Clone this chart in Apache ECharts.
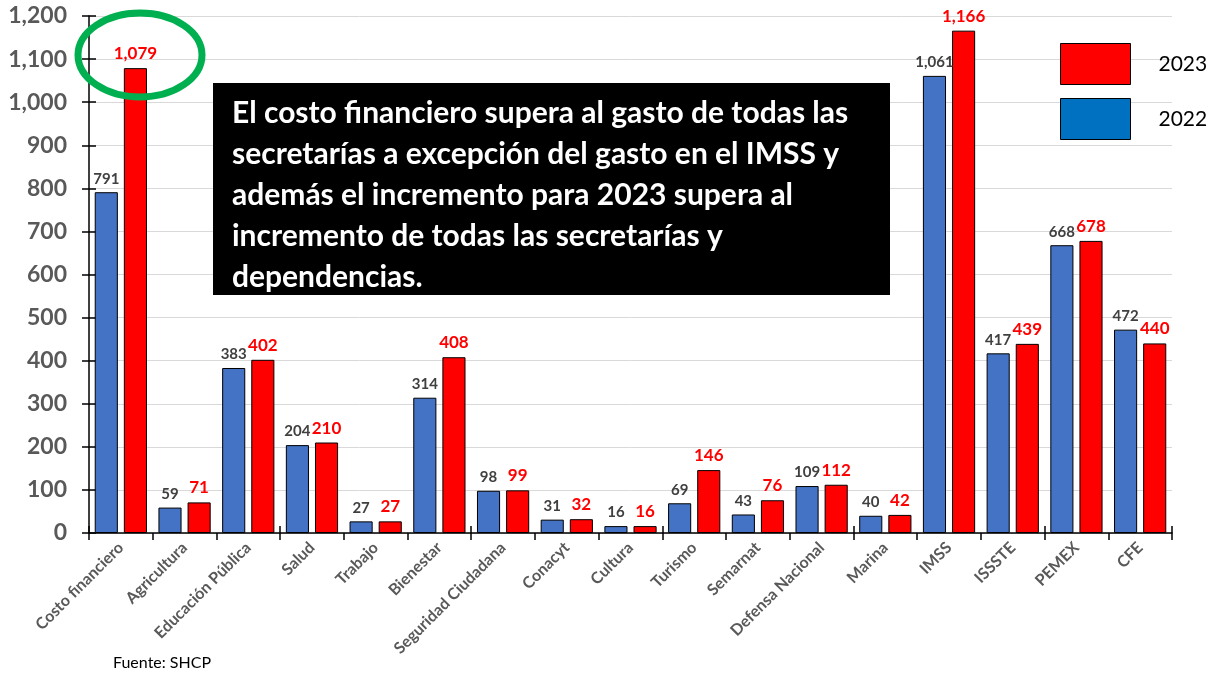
<!DOCTYPE html>
<html><head><meta charset="utf-8">
<script src="https://cdn.jsdelivr.net/npm/echarts@6/dist/echarts.min.js"></script>
<style>html,body{margin:0;padding:0;background:#fff}#c{width:1217px;height:677px}</style>
</head><body><div id="c"></div>
<script>
const categories = ['Costo financiero','Agricultura','Educación Pública','Salud','Trabajo','Bienestar','Seguridad Ciudadana','Conacyt','Cultura','Turismo','Semarnat','Defensa Nacional','Marina','IMSS','ISSSTE','PEMEX','CFE'];
const values2022 = [791,59,383,204,27,314,98,31,16,69,43,109,40,1061,417,668,472];
const values2023 = [1079,71,402,210,27,408,99,32,16,146,76,112,42,1166,439,678,440];
const yTicks = [0,100,200,300,400,500,600,700,800,900,1000,1100,1200];
const noteText = 'El costo financiero supera al gasto de todas las\nsecretarías a excepción del gasto en el IMSS y\nademás el incremento para 2023 supera al\nincremento de todas las secretarías y\ndependencias.';
const sourceText = 'Fuente: SHCP';

const FONT = 'Lato, "Liberation Sans", sans-serif';
const fmt = v => Number(v).toLocaleString('en-US');
const chart = echarts.init(document.getElementById('c'));
const grid = {left: 89, right: 45, top: 16, bottom: 144};
chart.setOption({
  animation: false,
  textStyle: {fontFamily: FONT},
  grid: grid,
  legend: {
    orient: 'vertical', left: 1060, top: 43, padding: 0, itemWidth: 70, itemHeight: 41, itemGap: 13,
    icon: 'rect',
    selectedMode: false,
    data: [
      {name: '2023', itemStyle: {color: '#FF0000', borderColor: '#000', borderWidth: 1}},
      {name: '2022', itemStyle: {color: '#0070C0', borderColor: '#000', borderWidth: 1}}
    ],
    textStyle: {fontSize: 21, color: '#000', fontFamily: FONT, padding: [6,0,0,23]}
  },
  xAxis: [{
    type: 'category', data: categories,
    axisLine: {lineStyle: {color: '#000', width: 1.5}},
    axisTick: {show: true, length: 7, lineStyle: {color: '#000', width: 1.5}},
    axisLabel: {rotate: 45, fontSize: 16, fontWeight: 'bold', color: '#595959', margin: 12, fontFamily: FONT, interval: 0}
  }, {
    type: 'category', data: categories, position: 'bottom',
    axisLine: {show: false},
    axisTick: {show: true, inside: true, length: 7, lineStyle: {color: '#000', width: 1.5}},
    axisLabel: {show: false}
  }],
  yAxis: [{
    type: 'value', min: 0, max: 1200, interval: 100,
    axisLine: {show: true, lineStyle: {color: '#000', width: 1.5}},
    axisTick: {show: true, length: 7, lineStyle: {color: '#000', width: 1.5}},
    splitLine: {lineStyle: {color: '#D9D9D9', width: 1}},
    axisLabel: {fontSize: 23, fontWeight: 'bold', color: '#595959', margin: 22, fontFamily: FONT, formatter: v => fmt(v)}
  }, {
    type: 'value', min: 0, max: 1200, interval: 100, position: 'left',
    axisLine: {show: false}, splitLine: {show: false}, axisLabel: {show: false},
    axisTick: {show: true, inside: true, length: 7, lineStyle: {color: '#000', width: 1.5}}
  }],
  series: [{
    name: '2022', type: 'bar', data: values2022,
    barGap: '26%', barCategoryGap: '18%',
    itemStyle: {color: '#4472C4', borderColor: '#000', borderWidth: 1},
    label: {show: true, position: 'top', distance: 6, color: '#404040', fontWeight: 'bold', fontSize: 15, fontFamily: FONT, formatter: p => fmt(p.value)}
  }, {
    name: '2023', type: 'bar', data: values2023,
    barGap: '26%', barCategoryGap: '18%',
    itemStyle: {color: '#FF0000', borderColor: '#000', borderWidth: 1},
    label: {show: true, position: 'top', distance: 6, color: '#FF0000', fontWeight: 'bold', fontSize: 17, fontFamily: FONT, formatter: p => fmt(p.value)}
  }],
  graphic: [
    {type: 'rect', left: 213, top: 83, shape: {width: 677, height: 212}, style: {fill: '#000'}, z: 100},
    {type: 'text', left: 232, top: 93, z: 101, style: {text: noteText, fill: '#fff', font: 'bold 30px ' + FONT, lineHeight: 41}},
    {type: 'ellipse', shape: {cx: 140, cy: 55, rx: 62, ry: 42}, style: {fill: 'none', stroke: '#00B050', lineWidth: 7}, z: 102},
    {type: 'text', left: 113, top: 655, style: {text: sourceText, fill: '#000', font: '16px ' + FONT}}
  ]
});
</script>
</body></html>
